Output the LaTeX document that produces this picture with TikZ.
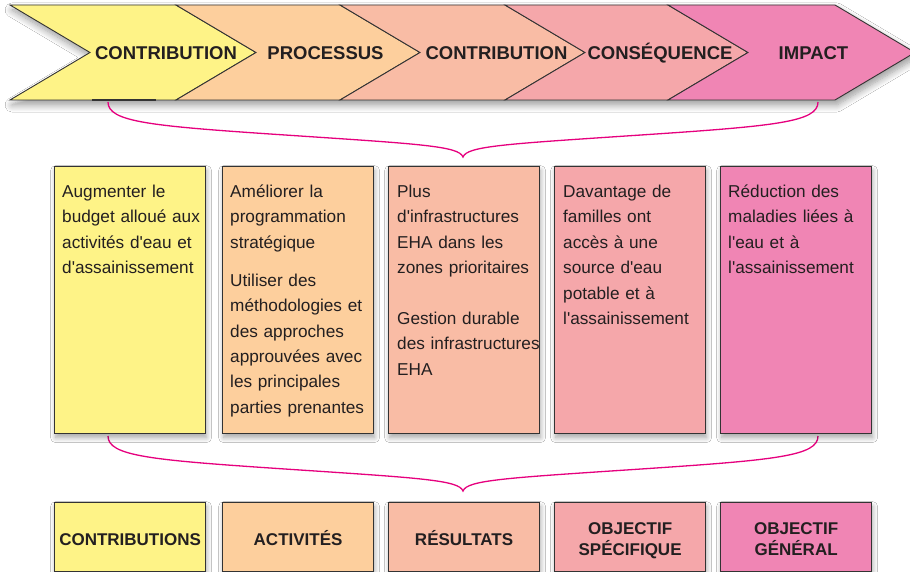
\documentclass[tikz,border=0pt]{standalone}
\usepackage{fontspec}
\setmainfont{Liberation Sans}[Ligatures=TeXOff]
\usetikzlibrary{shadows,shadows.blur,calc}
\definecolor{cYel}{HTML}{FEF387}
\definecolor{cPea}{HTML}{FDCF9D}
\definecolor{cSal}{HTML}{F9BCA5}
\definecolor{cPnk}{HTML}{F5A7AA}
\definecolor{cMag}{HTML}{F085B4}
\definecolor{cBrace}{HTML}{E6007E}
\definecolor{cEdge}{HTML}{333333}
\definecolor{cText}{HTML}{231F20}
\begin{document}
\begin{tikzpicture}[x=1pt, y=-1pt,
  chev/.style={draw=cEdge, line width=0.9pt, line join=miter},
  softshadow/.style={blur shadow={shadow xshift=1pt, shadow yshift=-4pt, shadow blur radius=5pt, shadow blur steps=8, shadow opacity=35}},
  midbox/.style={draw=cEdge, line width=1.2pt, anchor=north west, minimum width=151pt, minimum height=267pt, inner sep=0pt, softshadow},
  midtext/.style={anchor=base west, inner sep=0pt, text width=150pt, align=left, text=cText, font=\fontsize{17.2pt}{25.4pt}\selectfont},
  botbox/.style={draw=cEdge, line width=1.2pt, anchor=north west, minimum width=151pt, minimum height=69pt, inner sep=0pt, softshadow},
  bottext/.style={anchor=base, inner sep=0pt, text width=151pt, align=center, text=cText, font=\bfseries\fontsize{17pt}{21pt}\selectfont},
  toplab/.style={anchor=base, inner sep=0pt, text=cText, font=\bfseries\fontsize{18.5pt}{22pt}\selectfont},
  brace/.style={draw=cBrace, line width=1.3pt}]
\useasboundingbox (0,0) rectangle (910,572);
\fill[white] (0,0) rectangle (910,572);

% band shadow
\path[blur shadow={shadow xshift=2pt, shadow yshift=-5pt, shadow blur radius=7pt, shadow blur steps=10, shadow opacity=40}]
  (10,5) -- (835,5) -- (915,52.5) -- (835,100) -- (10,100) -- (90,52.5) -- cycle;

% chevrons
\foreach \L/\R/\c in {10/176/cYel, 176/340/cPea, 340/505/cSal, 505/668/cPnk, 668/835/cMag}
  \filldraw[chev, fill=\c] (\L,5) -- (\R,5) -- (\R+80,52.5) -- (\R,100) -- (\L,100) -- (\L+80,52.5) -- cycle;
\draw[cEdge, line width=2.5pt] (92,100) -- (156,100);

\node[toplab] (c1) at (166,59.6) {CONTRIBUTION};
\node[toplab] (c2) at (325.5,59.6) {PROCESSUS};
\node[toplab] (c3) at (496.5,59.6) {CONTRIBUTION};
\node[toplab] (c4) at (660,59.6) {CONSÉQUENCE};
\node[toplab] (c5) at (813.5,59.6) {IMPACT};

% braces
\foreach \o/\n in {0/t,334/b}{
  \coordinate (\n l) at (108,102+\o);
  \coordinate (\n m) at (463,157+\o);
  \coordinate (\n r) at (818,102+\o);
  \draw[brace] (\n l) .. controls +(0,20) and (150,126+\o) .. (285,135+\o)
     .. controls (420,144+\o) and (459,146+\o) .. (\n m)
     .. controls (467,146+\o) and (506,144+\o) .. (641,135+\o)
     .. controls (776,126+\o) and +(0,20) .. (\n r);
}

% middle boxes
\node[midbox, fill=cYel] (m1) at (54,166) {};
\node[midbox, fill=cPea] (m2) at (222,166) {};
\node[midbox, fill=cSal] (m3) at (388,166) {};
\node[midbox, fill=cPnk] (m4) at (554,166) {};
\node[midbox, fill=cMag] (m5) at (720,166) {};

\node[midtext] (m1t) at ($(m1.north west)+(8,31.5)$) {Augmenter le\\budget alloué aux\\activités d'eau et\\d'assainissement};
\node[midtext] (m2t) at ($(m2.north west)+(8,31.5)$) {Améliorer la\\programmation\\stratégique\\[12.5pt]Utiliser des\\méthodologies et\\des approches\\approuvées avec\\les principales\\parties prenantes};
\node[midtext] (m3t) at ($(m3.north west)+(9,31.5)$) {Plus\\d'infrastructures\\EHA dans les\\zones prioritaires\\[25.4pt]Gestion durable\\des infrastructures\\EHA};
\node[midtext] (m4t) at ($(m4.north west)+(9,31.5)$) {Davantage de\\familles ont\\accès à une\\source d'eau\\potable et à\\l'assainissement};
\node[midtext] (m5t) at ($(m5.north west)+(8,31.5)$) {Réduction des\\maladies liées à\\l'eau et à\\l'assainissement};

% bottom boxes
\node[botbox, fill=cYel] (b1) at (54,502) {};
\node[botbox, fill=cPea] (b2) at (222,502) {};
\node[botbox, fill=cSal] (b3) at (388,502) {};
\node[botbox, fill=cPnk] (b4) at (554,502) {};
\node[botbox, fill=cMag] (b5) at (720,502) {};

\node[bottext] (b1t) at ($(b1.center)+(0,8.6)$) {CONTRIBUTIONS};
\node[bottext] (b2t) at ($(b2.center)+(0,8.6)$) {ACTIVITÉS};
\node[bottext] (b3t) at ($(b3.center)+(0,8.6)$) {RÉSULTATS};
\node[bottext] (b4t) at ($(b4.center)+(0,-2.4)$) {OBJECTIF\\SPÉCIFIQUE};
\node[bottext] (b5t) at ($(b5.center)+(0,-2.4)$) {OBJECTIF\\GÉNÉRAL};
\end{tikzpicture}
\end{document}
